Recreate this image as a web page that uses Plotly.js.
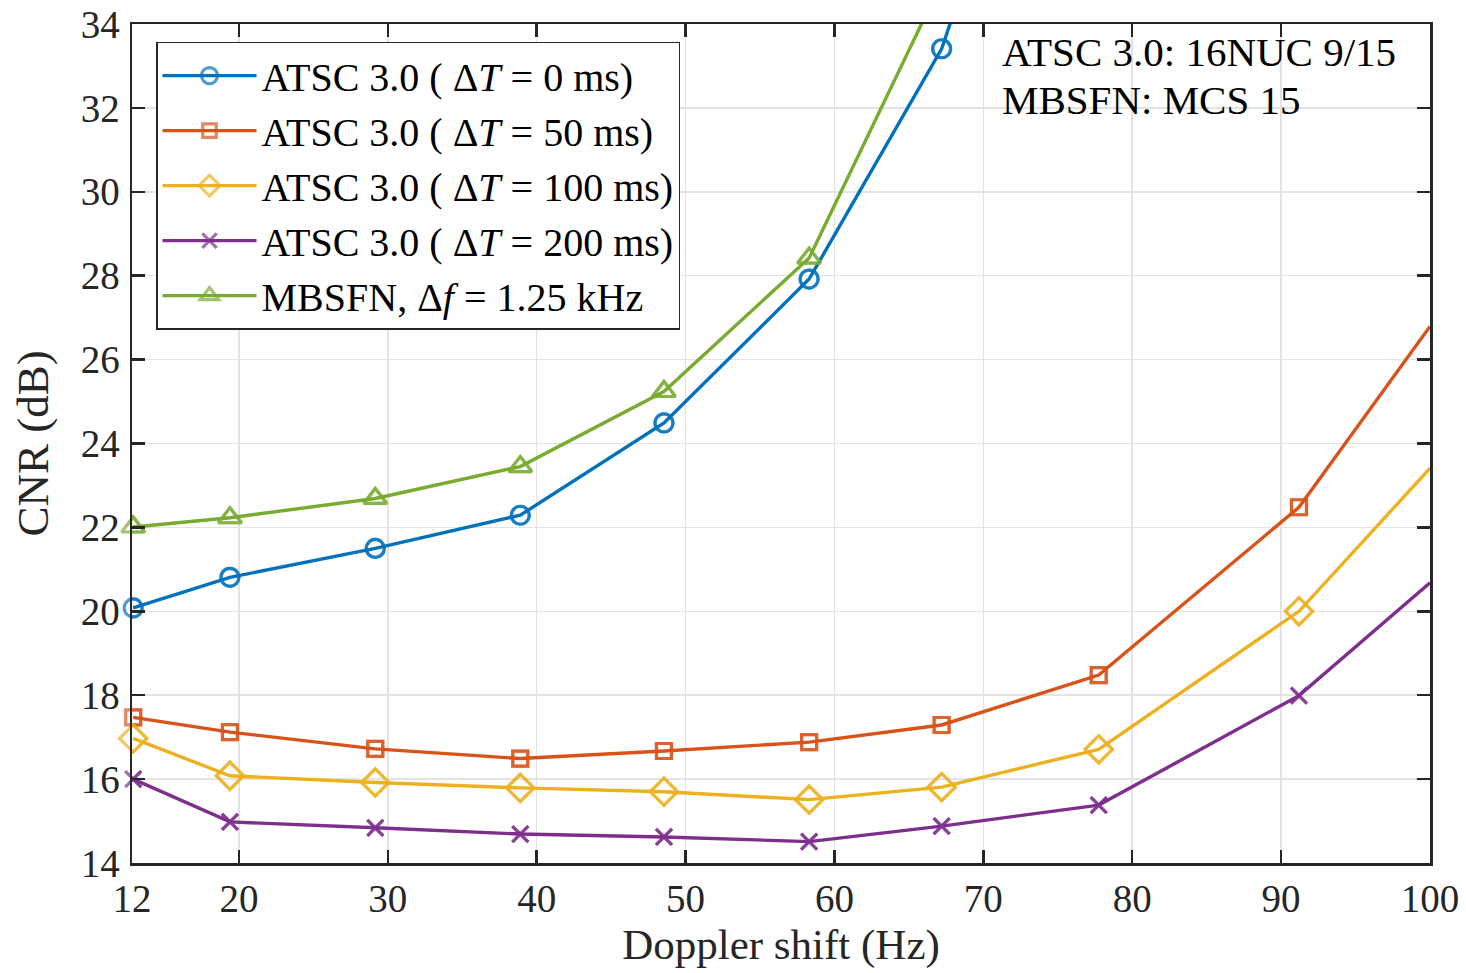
<!DOCTYPE html>
<html>
<head>
<meta charset="utf-8">
<script src="https://cdn.plot.ly/plotly-3.0.1.min.js"></script>
<style>html,body{margin:0;padding:0;background:#fff;}#chart{width:1466px;height:973px;}</style>
</head>
<body>
<div id="chart"></div>
<script>
// Doppler shift (Hz) of each simulated point
const doppler = [12.9, 19.4, 29.16, 38.9, 48.55, 58.3, 67.2, 77.75, 91.2, 100];
// Axis tick values and labels
const xTickVals = [12.82, 20, 30, 40, 50, 60, 70, 80, 90, 100];
const xTickText = ["12", "20", "30", "40", "50", "60", "70", "80", "90", "100"];
const yTickVals = [14, 16, 18, 20, 22, 24, 26, 28, 30, 32, 34];
// CNR (dB) per series
const atsc0ms   = [20.08, 20.81, 21.50, 22.29, 24.49, 27.92, 33.41, 44.5];
const atsc50ms  = [17.47, 17.12, 16.72, 16.49, 16.67, 16.88, 17.29, 18.48, 22.48, 26.79];
const atsc100ms = [16.97, 16.08, 15.92, 15.79, 15.70, 15.51, 15.81, 16.71, 20.00, 23.41];
const atsc200ms = [16.00, 14.98, 14.84, 14.69, 14.62, 14.51, 14.88, 15.38, 17.99, 20.68];
const mbsfn     = [22.01, 22.23, 22.69, 23.45, 25.24, 28.42, 35.0];

const names = [
  "ATSC 3.0 ( Δ<i>T</i> = 0 ms)",
  "ATSC 3.0 ( Δ<i>T</i> = 50 ms)",
  "ATSC 3.0 ( Δ<i>T</i> = 100 ms)",
  "ATSC 3.0 ( Δ<i>T</i> = 200 ms)",
  "MBSFN, Δ<i>f</i> = 1.25 kHz"
];
const colors = ["#0072BD", "#D95319", "#EDB120", "#7E2F8E", "#77AC30"];
const symbols = ["circle-open", "square-open", "diamond-open", "x-thin-open", "triangle-up-open"];
const msize = [18, 15, 21, 16, 20];
const series = [atsc0ms, atsc50ms, atsc100ms, atsc200ms, mbsfn];

const traces = [];
series.forEach((ys, k) => {
  const xs = doppler.slice(0, ys.length);
  // the last point sits on the right frame edge (x = 100): no marker drawn there
  const sizes = ys.map((v, i) => (xs[i] >= 100 ? 0 : msize[k]));
  const mk = {symbol: symbols[k], size: sizes, color: colors[k],
              line: {color: colors[k], width: 3.2}};
  // line (clipped to the frame) + legend entry
  traces.push({
    x: xs, y: ys, name: names[k], type: "scatter", mode: "lines+markers",
    legendgroup: "g" + k,
    line: {color: colors[k], width: 3.4}, marker: mk, cliponaxis: true
  });
  // markers drawn unclipped on the frame edge, as in the original
  traces.push({
    x: xs, y: ys, name: names[k], type: "scatter", mode: "markers",
    legendgroup: "g" + k, showlegend: false,
    marker: mk, cliponaxis: false
  });
});

const fontFam = "Liberation Serif, Times New Roman, serif";
const axisCommon = {
  showline: true, linecolor: "#262626", linewidth: 2.5, mirror: "allticks",
  ticks: "inside", ticklen: 13, tickwidth: 2.5, tickcolor: "#262626",
  showgrid: true, gridcolor: "#e3e3e3", gridwidth: 1.5, zeroline: false,
  ticklabeloverflow: "allow",
  tickfont: {family: fontFam, size: 39, color: "#262626"}
};

const layout = {
  width: 1466, height: 973,
  margin: {l: 132, r: 36, t: 24, b: 110},
  paper_bgcolor: "#fff", plot_bgcolor: "#fff",
  font: {family: fontFam, color: "#262626"},
  xaxis: Object.assign({}, axisCommon, {
    range: [12.82, 100], tickmode: "array", tickvals: xTickVals, ticktext: xTickText,
    ticklabelstandoff: 0,
    title: {text: "Doppler shift (Hz)", font: {family: fontFam, size: 43, color: "#262626"}, standoff: 10}
  }),
  yaxis: Object.assign({}, axisCommon, {
    range: [14, 34], tickmode: "array", tickvals: yTickVals,
    ticklabelstandoff: 2,
    title: {text: "CNR (dB)", font: {family: fontFam, size: 45, color: "#262626"}, standoff: 18}
  }),
  showlegend: true,
  legend: {
    x: 0.0185, y: 0.979, xanchor: "left", yanchor: "top",
    bgcolor: "#fff", bordercolor: "#262626", borderwidth: 1.5,
    font: {family: fontFam, size: 40, color: "#000"},
    itemwidth: 94, tracegroupgap: 0
  },
  annotations: [
    {xref: "paper", yref: "paper", x: 0.669, y: 0.967, xanchor: "left", yanchor: "middle",
     showarrow: false, text: "ATSC 3.0: 16NUC 9/15",
     font: {family: fontFam, size: 41, color: "#000"}},
    {xref: "paper", yref: "paper", x: 0.669, y: 0.909, xanchor: "left", yanchor: "middle",
     showarrow: false, text: "MBSFN: MCS 15",
     font: {family: fontFam, size: 41, color: "#000"}}
  ]
};

Plotly.newPlot("chart", traces, layout, {displayModeBar: false, staticPlot: true});
</script>
</body>
</html>
